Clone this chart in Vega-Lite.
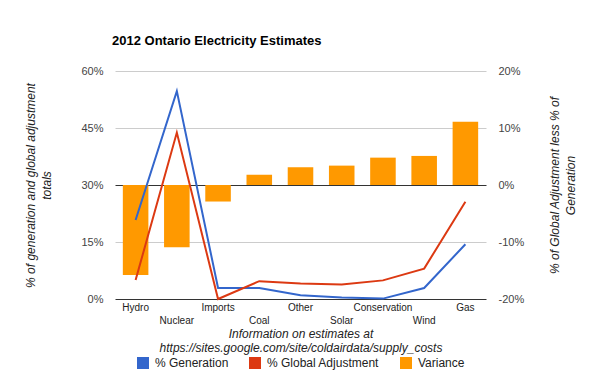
{
  "$schema": "https://vega.github.io/schema/vega-lite/v6.json",
  "autosize": "none",
  "width": 371,
  "height": 228,
  "padding": {"left": 115, "top": 71, "right": 114, "bottom": 72},
  "background": "#ffffff",
  "config": {
    "font": "Liberation Sans",
    "view": {"stroke": null}
  },
  "title": {
    "text": "2012 Ontario Electricity Estimates",
    "anchor": "start",
    "frame": "group",
    "offset": 17,
    "dx": -3,
    "font": "Liberation Sans",
    "fontSize": 13,
    "fontWeight": "bold",
    "color": "#000000"
  },
  "data": {
    "values": [
      {"category": "Hydro", "series": "% Generation", "value": 20.8},
      {"category": "Nuclear", "series": "% Generation", "value": 54.7},
      {"category": "Imports", "series": "% Generation", "value": 2.9},
      {"category": "Coal", "series": "% Generation", "value": 2.9},
      {"category": "Other", "series": "% Generation", "value": 1.0},
      {"category": "Solar", "series": "% Generation", "value": 0.4},
      {"category": "Conservation", "series": "% Generation", "value": 0.1},
      {"category": "Wind", "series": "% Generation", "value": 2.9},
      {"category": "Gas", "series": "% Generation", "value": 14.4},
      {"category": "Hydro", "series": "% Global Adjustment", "value": 5.0},
      {"category": "Nuclear", "series": "% Global Adjustment", "value": 43.8},
      {"category": "Imports", "series": "% Global Adjustment", "value": 0.0},
      {"category": "Coal", "series": "% Global Adjustment", "value": 4.7},
      {"category": "Other", "series": "% Global Adjustment", "value": 4.1},
      {"category": "Solar", "series": "% Global Adjustment", "value": 3.8},
      {"category": "Conservation", "series": "% Global Adjustment", "value": 4.9},
      {"category": "Wind", "series": "% Global Adjustment", "value": 8.0},
      {"category": "Gas", "series": "% Global Adjustment", "value": 25.6},
      {"category": "Hydro", "series": "Variance", "value": -15.8},
      {"category": "Nuclear", "series": "Variance", "value": -10.9},
      {"category": "Imports", "series": "Variance", "value": -2.9},
      {"category": "Coal", "series": "Variance", "value": 1.8},
      {"category": "Other", "series": "Variance", "value": 3.1},
      {"category": "Solar", "series": "Variance", "value": 3.4},
      {"category": "Conservation", "series": "Variance", "value": 4.8},
      {"category": "Wind", "series": "Variance", "value": 5.1},
      {"category": "Gas", "series": "Variance", "value": 11.1}
    ]
  },
  "encoding": {
    "x": {
      "field": "category",
      "type": "nominal",
      "sort": ["Hydro", "Nuclear", "Imports", "Coal", "Other", "Solar", "Conservation", "Wind", "Gas"],
      "scale": {"type": "band", "paddingInner": 0.38, "paddingOuter": 0.19},
      "axis": {
        "title": ["Information on estimates at", "https://sites.google.com/site/coldairdata/supply_costs"],
        "titleFontSize": 12,
        "titleFontStyle": "italic",
        "titleFontWeight": "normal",
        "titleColor": "#222222",
        "titleLineHeight": 14,
        "titlePadding": 3,
        "labelAngle": 0,
        "labelFontSize": 10,
        "labelColor": "#222222",
        "labelPadding": {"condition": {"test": "indexof(['Nuclear','Coal','Solar','Wind'], datum.value) >= 0", "value": 16}, "value": 3},
        "domain": false,
        "ticks": false,
        "grid": false
      }
    }
  },
  "layer": [
    {
      "transform": [{"filter": "datum.series == 'Variance'"}],
      "mark": {"type": "bar"},
      "encoding": {
        "y": {
          "field": "value",
          "type": "quantitative",
          "scale": {"domain": [-20, 20], "nice": false},
          "axis": {
            "orient": "right",
            "values": [-20, -10, 0, 10, 20],
            "labelExpr": "datum.value + '%'",
            "title": ["% of Global Adjustment less % of", "Generation"],
            "titleAngle": -90,
            "titleFontSize": 12,
            "titleFontStyle": "italic",
            "titleFontWeight": "normal",
            "titleColor": "#222222",
            "titleLineHeight": 16,
            "titlePadding": 22,
            "labelFontSize": 11,
            "labelColor": "#444444",
            "labelPadding": 12,
            "domain": false,
            "ticks": false,
            "grid": false
          }
        },
        "color": {
          "field": "series",
          "type": "nominal",
          "scale": {
            "domain": ["% Generation", "% Global Adjustment", "Variance"],
            "range": ["#3366cc", "#dc3912", "#ff9900"]
          },
          "legend": {
            "title": null,
            "orient": "none",
            "direction": "horizontal",
            "legendX": 22,
            "legendY": 286,
            "symbolType": "square",
            "symbolSize": 144,
            "symbolStrokeWidth": 0,
            "labelFontSize": 12,
            "labelColor": "#222222",
            "labelOffset": 6,
            "columnPadding": 20
          }
        }
      }
    },
    {
      "transform": [{"filter": "datum.series != 'Variance'"}],
      "mark": {"type": "line", "strokeWidth": 2},
      "encoding": {
        "y": {
          "field": "value",
          "type": "quantitative",
          "scale": {"domain": [0, 60], "nice": false},
          "axis": {
            "orient": "left",
            "values": [0, 15, 30, 45, 60],
            "labelExpr": "datum.value + '%'",
            "title": ["% of generation and global adjustment", "totals"],
            "titleFontSize": 12,
            "titleFontStyle": "italic",
            "titleFontWeight": "normal",
            "titleColor": "#222222",
            "titleLineHeight": 16,
            "titlePadding": 27,
            "labelFontSize": 11,
            "labelColor": "#444444",
            "labelPadding": 12,
            "domain": false,
            "ticks": false,
            "grid": true,
            "gridColor": {"condition": {"test": "datum.value == 0 || datum.value == 30", "value": "#333333"}, "value": "#cccccc"},
            "gridWidth": 1
          }
        },
        "stroke": {
          "field": "series",
          "type": "nominal",
          "scale": {
            "domain": ["% Generation", "% Global Adjustment"],
            "range": ["#3366cc", "#dc3912"]
          },
          "legend": null
        },
        "detail": {"field": "series"}
      }
    }
  ],
  "resolve": {"scale": {"y": "independent"}}
}
